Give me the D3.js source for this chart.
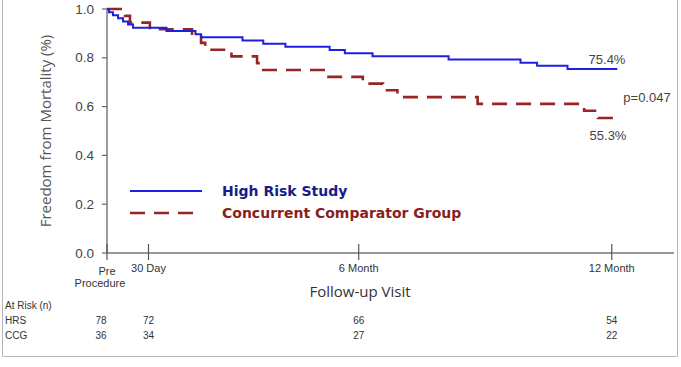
<!DOCTYPE html>
<html>
<head>
<meta charset="utf-8">
<script src="https://cdn.jsdelivr.net/npm/d3@7/dist/d3.min.js"></script>
<style>
  body { margin: 0; background: #fff; }
  svg { display: block; font-family: "Liberation Sans", Arial, sans-serif; }
</style>
</head>
<body>
<svg id="chart" width="681" height="367"></svg>
<script>
"use strict";

// Kaplan-Meier steps, days from procedure
const hrsDays = [0, 1.4, 4.3, 8, 11.6, 15.2, 18.8, 43, 64, 68, 98, 113, 129, 161, 172, 192, 247, 299, 311, 333, 369];
const hrsSurv = [1, 0.987, 0.974, 0.962, 0.949, 0.936, 0.923, 0.910, 0.897, 0.884, 0.871, 0.858, 0.845, 0.832, 0.819, 0.806, 0.793, 0.780, 0.767, 0.754, 0.754];

const ccgDays = [0, 13, 16.6, 31, 61.5, 68, 71, 90, 108.5, 113, 158, 185, 199.6, 210, 268, 345, 355, 367];
const ccgSurv = [1, 0.972, 0.944, 0.917, 0.889, 0.861, 0.833, 0.806, 0.778, 0.750, 0.722, 0.694, 0.667, 0.639, 0.611, 0.583, 0.553, 0.553];

const tickDays = [0, 30, 182, 365];
const tickLabels = [["Pre", "Procedure"], ["30 Day"], ["6 Month"], ["12 Month"]];
const yTicks = [0, 0.2, 0.4, 0.6, 0.8, 1.0];

const riskRows = ["HRS", "CCG"];
const hrsAtRisk = [78, 72, 66, 54];
const ccgAtRisk = [36, 34, 27, 22];

const seriesNames = ["High Risk Study", "Concurrent Comparator Group"];

(function()
{
	const svg = d3.select("#chart");
	const blue = "#1f1fe0", red = "#962626";

	//frame
	svg.append("path")
		.attr("d", "M2.5,0 V356.5 H677.5 V0")
		.attr("fill", "none")
		.attr("stroke", "#b5b5b5");

	let x = d3.scaleLinear().domain([0, 410]).range([107, 674]);
	let y = d3.scaleLinear().domain([0, 1]).range([253, 9]);

	//y axis
	svg.append("line")
		.attr("x1", 107).attr("x2", 107)
		.attr("y1", y(1)).attr("y2", y(0))
		.attr("stroke", "#666").attr("stroke-width", 1.3);
	let yt = svg.append("g");
	for (let t of yTicks)
	{
		yt.append("line")
			.attr("x1", 102).attr("x2", 107)
			.attr("y1", y(t)).attr("y2", y(t))
			.attr("stroke", "#666").attr("stroke-width", 1.2);
		yt.append("text")
			.attr("x", 94).attr("y", y(t) + 4.5)
			.attr("text-anchor", "end")
			.attr("font-size", 13.5)
			.attr("fill", "#444")
			.text(d3.format(".1f")(t));
	}
	svg.append("text")
		.attr("transform", "translate(51,131) rotate(-90)")
		.attr("text-anchor", "middle")
		.attr("font-family", "'Open Sans', sans-serif")
		.attr("font-size", 15)
		.attr("fill", "#555")
		.text("Freedom from Mortality (%)");

	//x axis
	svg.append("line")
		.attr("x1", x(0)).attr("x2", x(410))
		.attr("y1", y(0)).attr("y2", y(0))
		.attr("stroke", "#777").attr("stroke-width", 1.3);
	tickDays.forEach(function(d, i)
	{
		svg.append("line")
			.attr("x1", x(d)).attr("x2", x(d))
			.attr("y1", 244).attr("y2", 260)
			.attr("stroke", "#555").attr("stroke-width", 1.2);
		let lines = tickLabels[i];
		lines.forEach(function(s, j)
		{
			svg.append("text")
				.attr("x", x(d) + (lines.length > 1 ? (j ? -7 : 0) : 0))
				.attr("y", (lines.length > 1 ? 275 : 272) + j * 12)
				.attr("text-anchor", "middle")
				.attr("font-size", 11)
				.attr("fill", "#333")
				.text(s);
		});
	});
	svg.append("text")
		.attr("x", 360).attr("y", 297)
		.attr("text-anchor", "middle")
		.attr("font-family", "'Open Sans', sans-serif")
		.attr("font-size", 15)
		.attr("fill", "#333")
		.text("Follow-up Visit");

	//curves
	let line = d3.line()
		.x(function(d) { return x(d[0]); })
		.y(function(d) { return y(d[1]); })
		.curve(d3.curveStepAfter);

	svg.append("path")
		.attr("d", line(ccgDays.map(function(d, i) { return [d, ccgSurv[i]]; })))
		.attr("fill", "none")
		.attr("stroke", red)
		.attr("stroke-width", 2.6)
		.attr("stroke-dasharray", "15,9");
	svg.append("path")
		.attr("d", line(hrsDays.map(function(d, i) { return [d, hrsSurv[i]]; })))
		.attr("fill", "none")
		.attr("stroke", blue)
		.attr("stroke-width", 2);

	//annotations
	let note = function(px, py, s)
	{
		svg.append("text")
			.attr("x", px).attr("y", py)
			.attr("text-anchor", "middle")
			.attr("font-size", 13)
			.attr("fill", "#444")
			.text(s);
	};
	note(607, 64, d3.format(".1%")(hrsSurv[hrsSurv.length - 1]));
	note(647, 102, "p=0.047");
	note(608, 140, d3.format(".1%")(ccgSurv[ccgSurv.length - 1]));

	//legend
	let legend = svg.append("g");
	[[blue, null, "#1a1a8a"], [red, "15,9", "#8a1e1e"]].forEach(function(c, i)
	{
		let ly = 191 + i * 22;
		legend.append("line")
			.attr("x1", 130).attr("x2", 202)
			.attr("y1", ly).attr("y2", ly)
			.attr("stroke", c[0])
			.attr("stroke-width", i ? 2.6 : 2.2)
			.attr("stroke-dasharray", c[1]);
		legend.append("text")
			.attr("x", 222).attr("y", ly + 5)
			.attr("font-family", "'DejaVu Sans', sans-serif")
			.attr("font-weight", "bold")
			.attr("font-size", 14)
			.attr("fill", c[2])
			.text(seriesNames[i]);
	});

	//at risk table
	svg.append("text")
		.attr("x", 5).attr("y", 309)
		.attr("font-size", 10)
		.attr("fill", "#333")
		.text("At Risk (n)");
	[hrsAtRisk, ccgAtRisk].forEach(function(row, r)
	{
		let ry = 324 + r * 15;
		svg.append("text")
			.attr("x", 5).attr("y", ry)
			.attr("font-size", 10)
			.attr("fill", "#333")
			.text(riskRows[r]);
		row.forEach(function(n, i)
		{
			svg.append("text")
				.attr("x", x(tickDays[i]) + (i ? 0 : -6))
				.attr("y", ry)
				.attr("text-anchor", "middle")
				.attr("font-size", 10)
				.attr("fill", "#333")
				.text(n);
		});
	});
})();
</script>
</body>
</html>
